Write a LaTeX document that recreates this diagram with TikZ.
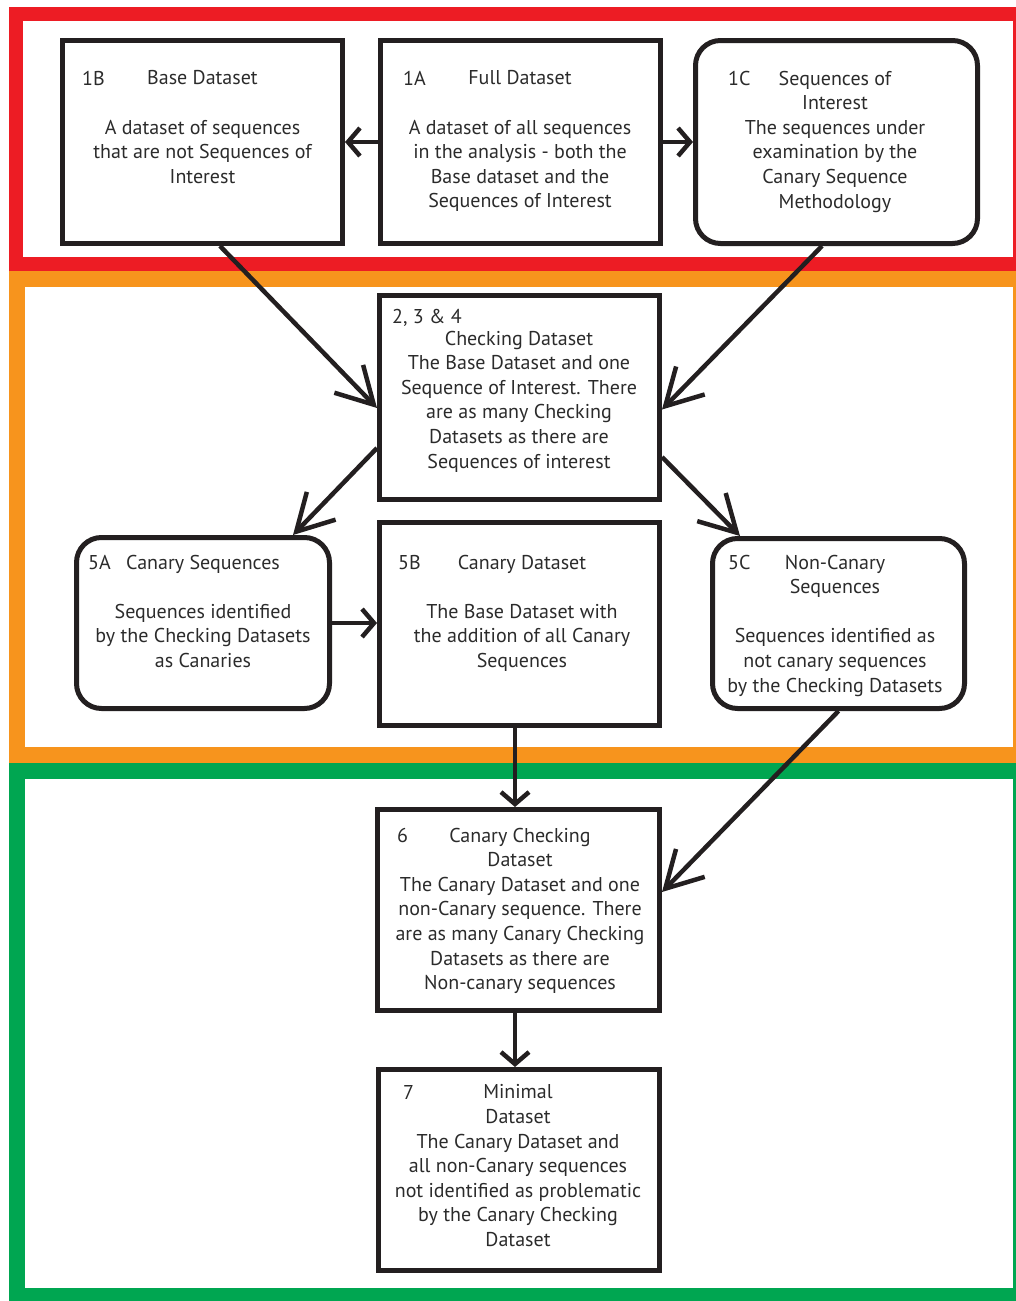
\documentclass[tikz,border=0pt]{standalone}
\usepackage{fontspec}
\setmainfont{PT Sans}
\usetikzlibrary{arrows.meta,positioning,calc}
\definecolor{framered}{HTML}{ED1C24}
\definecolor{frameorange}{HTML}{F7941D}
\definecolor{framegreen}{HTML}{00A651}
\definecolor{ink}{HTML}{231F20}
\definecolor{txtgray}{HTML}{2B2B2B}

\begin{document}
\begin{tikzpicture}[x=1pt,y=-1pt,
  box/.style={draw=ink, line width=5pt, minimum width=280pt, minimum height=203pt, inner sep=0pt},
  rbox/.style={box, rounded corners=25pt, minimum width=253pt, minimum height=171pt},
  txt/.style={anchor=north, inner sep=0pt, align=center, text=txtgray, font=\fontsize{20}{24.6}\selectfont},
  num/.style={anchor=base west, inner sep=0pt, text=txtgray, font=\fontsize{20}{24.6}\selectfont},
  sarr/.style={draw=ink, line width=4.5pt, -{Straight Barb[length=12pt,width=28pt]}},
  barr/.style={draw=ink, line width=4.5pt, -{Straight Barb[length=36pt,width=40pt]}},
  frame/.style={line width=16pt}]
\useasboundingbox (0,0) rectangle (1015,1301);
% stage frames
\draw[frame, framered, line width=14pt] (16,14) rectangle (1020,263.5);
\draw[frame, frameorange] (17,278.5) rectangle (1021,755);
\draw[frame, framegreen] (17,770.5) rectangle (1021,1296);

% top row
\node[box] (b1) at (202.5,142) {};
\node[box] (a1) at (520.5,142) {};
\node[rbox, minimum width=282pt, minimum height=203pt] (c1) at (836.5,142) {};
\node[num] (n1b) at (82,85) {1B};
\node[txt] (t1b) at (202.5,70.6) {Base Dataset\\[24.6pt]A dataset of sequences\\that are not Sequences of\\Interest};
\node[num] (n1a) at (403,85) {1A};
\node[txt] (t1a) at (520,70.6) {Full Dataset\\[24.6pt]A dataset of all sequences\\in the analysis - both the\\Base dataset and the\\Sequences of Interest};
\node[num] (n1c) at (728,85) {1C};
\node[txt] (t1c) at (835,70.6) {Sequences of\\Interest\\The sequences under\\examination by the\\Canary Sequence\\Methodology};

% checking
\node[box, minimum height=204pt] (chk) at (519.5,397.5) {};
\node[num] (nchk) at (392,323) {2, 3 \& 4};
\node[txt] (tchk) at (519,330.6) {Checking Dataset\\The Base Dataset and one\\Sequence of Interest. There\\are as many Checking\\Datasets as there are\\Sequences of interest};

% second row
\node[rbox] (a5) at (203,623) {};
\node[box] (b5) at (519.5,624) {};
\node[rbox, minimum width=252pt, minimum height=170pt] (c5) at (838.5,623.5) {};
\node[num] (n5a) at (88,569) {5A};
\node[txt] (t5a) at (203,554.6) {Canary Sequences\\[24.6pt]Sequences identified\\by the Checking Datasets\\as Canaries};
\node[num] (n5b) at (398,569) {5B};
\node[txt] (t5b) at (522,554.6) {Canary Dataset\\[24.6pt]The Base Dataset with\\the addition of all Canary\\Sequences};
\node[num] (n5c) at (728,569) {5C};
\node[txt] (t5c) at (835,554.6) {Non-Canary\\Sequences\\[24.6pt]Sequences identified as\\not canary sequences\\by the Checking Datasets};

% bottom stage
\node[box, minimum width=282pt, minimum height=201pt] (six) at (518.5,910) {};
\node[num] (n6) at (397,842) {6};
\node[txt] (t6) at (520,827.6) {Canary Checking\\Dataset\\The Canary Dataset and one\\non-Canary sequence. There\\are as many Canary Checking\\Datasets as there are\\Non-canary sequences};
\node[box, minimum width=281pt, minimum height=201pt] (sev) at (519,1170) {};
\node[num] (n7) at (403,1099) {7};
\node[txt] (t7) at (518,1084.6) {Minimal\\Dataset\\The Canary Dataset and\\all non-Canary sequences\\not identified as problematic\\by the Canary Checking\\Dataset};

% connectors
\draw[sarr] (a1.west) -- (b1.east);
\draw[sarr] (a1.east) -- (c1.west);
\draw[barr] ([xshift=17.5pt]b1.south) -- ([yshift=-10.5pt]chk.west);
\draw[barr] ([xshift=-14.5pt]c1.south) -- ([yshift=-12pt]chk.east);
\draw[barr] ([yshift=-50.5pt]chk.west) -- ([xshift=90pt]a5.north);
\draw[barr] ([yshift=-59.5pt]chk.east) -- ([xshift=-98.5pt]c5.north);
\draw[sarr] (a5.east) -- (b5.west |- a5.east);
\draw[sarr] ([xshift=-4.5pt]b5.south) -- ([xshift=-4.5pt]b5.south |- six.north);
\draw[barr] (c5.south) -- ([yshift=18pt]six.east);
\draw[sarr] ([xshift=-3.5pt]six.south) -- ([xshift=-3.5pt]six.south |- sev.north);
\end{tikzpicture}
\end{document}
